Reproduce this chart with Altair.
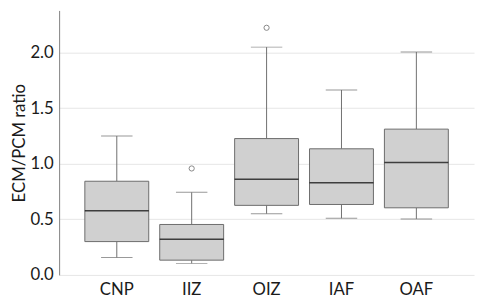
import altair as alt
import pandas as pd

groups = ["CNP", "IIZ", "OIZ", "IAF", "OAF"]
lower = [0.157, 0.104, 0.551, 0.510, 0.504]
q1 = [0.300, 0.133, 0.626, 0.634, 0.604]
median = [0.578, 0.321, 0.861, 0.829, 1.011]
q3 = [0.843, 0.454, 1.227, 1.135, 1.312]
upper = [1.250, 0.743, 2.050, 1.664, 2.006]
outlier_groups = ["IIZ", "OIZ"]
outlier_values = [0.958, 2.224]

df = pd.DataFrame({"group": groups, "lower": lower, "q1": q1, "median": median,
                   "q3": q3, "upper": upper})
out = pd.DataFrame({"group": outlier_groups, "value": outlier_values})

FONT = "Lato"
x = alt.X("group:N", sort=groups, title=None,
          scale=alt.Scale(paddingInner=0.2, paddingOuter=0.37),
          axis=alt.Axis(domain=False, ticks=False, labelFontSize=17, labelFont=FONT,
                        labelColor="#1a1a1a", labelPadding=7, labelAngle=0, grid=False))
yscale = alt.Scale(domain=[0, 2.38], nice=False, zero=True)
yaxis = alt.Axis(values=[0, 0.5, 1.0, 1.5, 2.0], format=".1f", domain=True, domainColor="#7f7f7f",
                 ticks=False, labelFontSize=17, labelFont=FONT, labelColor="#1a1a1a",
                 labelPadding=6, grid=True, gridColor="#e6e6e6", title="ECM/PCM ratio",
                 titleFont=FONT, titleFontSize=17, titleFontWeight="normal",
                 titleColor="#1a1a1a", titlePadding=1)

base = alt.Chart(df)
wlow = base.mark_rule(color="#6e6e6e", strokeWidth=1).encode(
    x=x, y=alt.Y("lower:Q", scale=yscale, axis=yaxis), y2="q1:Q")
whigh = base.mark_rule(color="#6e6e6e", strokeWidth=1).encode(
    x=x, y=alt.Y("q3:Q", scale=yscale), y2="upper:Q")
box = base.mark_bar(size=65, color="#d0d0d0", stroke="#6b6b6b", strokeWidth=1).encode(
    x=x, y=alt.Y("q1:Q", scale=yscale), y2="q3:Q")
med = base.mark_tick(size=65, thickness=1.5, color="#000000").encode(
    x=x, y=alt.Y("median:Q", scale=yscale))
capl = base.mark_tick(size=32, thickness=1, color="#6e6e6e").encode(
    x=x, y=alt.Y("lower:Q", scale=yscale))
caph = base.mark_tick(size=32, thickness=1, color="#6e6e6e").encode(
    x=x, y=alt.Y("upper:Q", scale=yscale))
pts = alt.Chart(out).mark_point(shape="circle", size=28, filled=False, color="#555555",
                                 strokeWidth=1).encode(
    x=x, y=alt.Y("value:Q", scale=yscale))

chart = alt.layer(wlow, whigh, box, med, capl, caph, pts).properties(
    width=422, height=269,
    autosize=alt.AutoSizeParams(type="none"),
    padding={"left": 52, "top": 0, "right": 2, "bottom": 22},
).configure_view(stroke=None)

chart.save("out.html", embed_options={"renderer": "svg", "actions": False})
